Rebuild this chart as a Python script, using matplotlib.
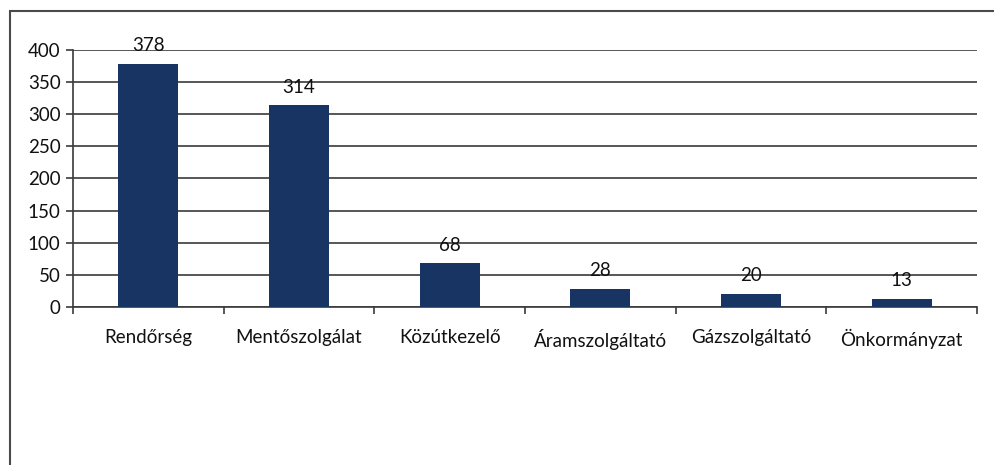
import matplotlib
matplotlib.use("Agg")
import matplotlib.pyplot as plt
from matplotlib.patches import Rectangle

categories = ["Rendőrség", "Mentőszolgálat", "Közútkezelő", "Áramszolgáltató", "Gázszolgáltató", "Önkormányzat"]
values = [378, 314, 68, 28, 20, 13]
yticks = [0, 50, 100, 150, 200, 250, 300, 350, 400]

plt.rcParams['font.family'] = ['Lato', 'DejaVu Sans']

W, H = 995, 465
fig = plt.figure(figsize=(W/100, H/100), dpi=100)
fig.patch.set_facecolor('white')

# outer border
fig.patches.append(Rectangle((10/W, -0.1), 1.2, 1.1 - 11/H, transform=fig.transFigure,
                             fill=False, edgecolor='#4a4a4a', linewidth=1.5))

FS = 13.5
ax = fig.add_axes([73/W, 1 - 307/H, (977-73)/W, (307-50)/H])
x = list(range(len(categories)))
bars = ax.bar(x, values, width=0.4, color='#173463', zorder=3)
ax.set_xlim(-0.5, len(categories) - 0.5)
ax.set_ylim(0, 400)
ax.set_yticks(yticks)
ax.set_yticklabels([str(t) for t in yticks], fontsize=FS, color='#111111')
ax.yaxis.grid(True, color='#3a3a3a', linewidth=1.2, zorder=0)
ax.set_axisbelow(True)

for s in ['top', 'right']:
    ax.spines[s].set_visible(False)
ax.spines['left'].set_color('#3a3a3a')
ax.spines['left'].set_linewidth(1.2)
ax.spines['bottom'].set_color('#3a3a3a')
ax.spines['bottom'].set_linewidth(1.2)

ax.set_xticks(x)
ax.set_xticklabels(categories, fontsize=FS, color='#111111')
ax.tick_params(axis='x', length=0, pad=16)
ax.set_xticks([i - 0.5 for i in range(len(categories) + 1)], minor=True)
ax.tick_params(axis='x', which='minor', length=5, direction='out', color='#3a3a3a', width=1.2)
ax.tick_params(axis='y', length=5, direction='out', color='#3a3a3a', width=1.2, pad=4)

for xi, v in zip(x, values):
    ax.annotate(str(v), (xi, v), xytext=(0, 7), textcoords='offset points',
                ha='center', va='bottom', fontsize=FS, color='#111111', zorder=4)

fig.savefig('out.png', dpi=100, facecolor='white')
